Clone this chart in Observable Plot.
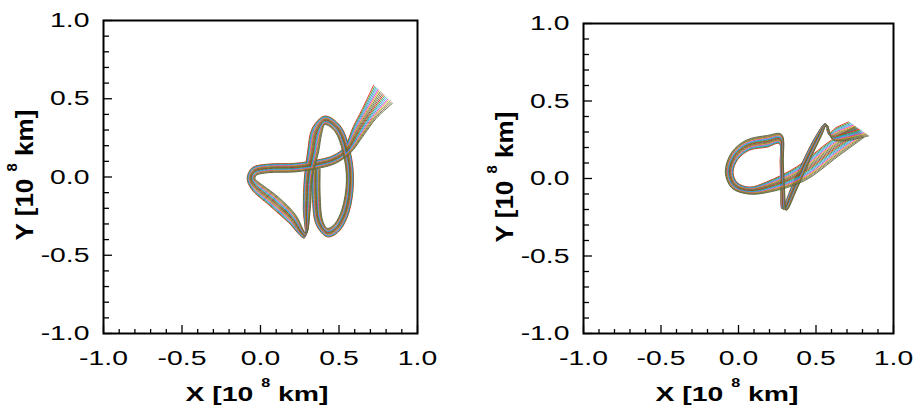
<!DOCTYPE html>
<html><head><meta charset="utf-8">
<script src="https://cdn.jsdelivr.net/npm/d3@7"></script>
<script src="https://cdn.jsdelivr.net/npm/@observablehq/plot@0.6"></script>
<style>
body{margin:0;background:#fff;}
#wrap{position:relative;width:915px;height:407px;overflow:hidden;background:#fff;}
#wrap svg{position:absolute;top:0;}
</style></head><body><div id="wrap"></div>
<script>
// ---- tick values and labels ----
const majorTicks = [-1, -0.5, 0, 0.5, 1];
const majorLabels = ["-1.0", "-0.5", "0.0", "0.5", "1.0"];
const minorTicks = [-0.9, -0.8, -0.7, -0.6, -0.4, -0.3, -0.2, -0.1, 0.1, 0.2, 0.3, 0.4, 0.6, 0.7, 0.8, 0.9];
const xTitleParts = ["X [10 ", "8", " km]"];
const yTitleParts = ["Y [10 ", "8", " km]"];

// ---- left panel: trajectory bundle centre line and bundle width (last - first trajectory) ----
const leftPathX   = [0.78, 0.69, 0.626, 0.552, 0.47, 0.38, 0.22, 0.05, -0.04, -0.06, -0.035, 0.085, 0.2, 0.285, 0.295, 0.305, 0.335, 0.36, 0.41, 0.49, 0.548, 0.57, 0.54, 0.48, 0.425, 0.375, 0.355, 0.355];
const leftPathY   = [0.528, 0.40, 0.297, 0.17, 0.112, 0.085, 0.06, 0.055, 0.035, -0.01, -0.055, -0.155, -0.265, -0.375, -0.2, 0.0, 0.16, 0.295, 0.362, 0.31, 0.16, -0.02, -0.22, -0.33, -0.355, -0.29, -0.12, 0.05];
const leftSpreadX = [0.12, 0.09, 0.07, 0.035, 0.015, 0.0, 0.0, 0.0, 0.025, 0.05, 0.045, 0.055, 0.045, 0.012, 0.045, 0.05, 0.07, 0.06, 0.0, -0.035, -0.045, -0.045, -0.045, -0.03, 0.0, 0.04, 0.05, 0.05];
const leftSpreadY = [-0.115, -0.055, -0.05, -0.04, -0.05, -0.055, -0.055, -0.055, -0.05, -0.005, 0.045, 0.055, 0.05, 0.03, 0.0, 0.0, 0.0, -0.035, -0.055, -0.035, -0.01, 0.0, 0.02, 0.045, 0.055, 0.03, 0.0, 0.0];

// ---- right panel ----
const rightPathX   = [0.78, 0.62, 0.40, 0.19, 0.07, -0.025, -0.06, -0.025, 0.06, 0.185, 0.27, 0.279, 0.285, 0.295, 0.36, 0.44, 0.52, 0.565, 0.595, 0.66, 0.775];
const rightPathY   = [0.30, 0.195, 0.03, -0.055, -0.078, -0.045, 0.04, 0.145, 0.215, 0.24, 0.255, 0.1, -0.08, -0.2, -0.06, 0.12, 0.28, 0.35, 0.27, 0.285, 0.32];
const rightSpreadX = [0.06, 0.05, 0.05, 0.02, -0.005, -0.035, -0.05, -0.04, -0.02, 0.0, 0.015, 0.02, 0.025, 0.03, 0.035, 0.035, 0.03, 0.01, 0.03, 0.07, 0.13];
const rightSpreadY = [-0.07, -0.1, -0.09, -0.065, -0.045, -0.035, 0.0, 0.045, 0.065, 0.075, 0.06, 0.0, 0.0, -0.01, -0.015, -0.015, -0.01, -0.01, -0.04, -0.08, -0.09];

const curveCount = 18;
const palette = ["#e81010", "#20b020", "#3a78e0", "#20c8c8", "#e020d0", "#e0a010", "#6b7a2a", "#8b6a4a", "#55663f"];

const FONT = "'Liberation Sans', Arial, Helvetica, sans-serif";
const STRETCH = 1.35;

function bundle(px, py, sx, sy) {
  const rows = [];
  for (let c = 0; c < curveCount; c++) {
    const t = c / (curveCount - 1) - 0.5;
    for (let i = 0; i < px.length; i++) rows.push({c, x: px[i] + t * sx[i], y: py[i] + t * sy[i]});
  }
  return rows;
}

function panel(cfg) {
  const rows = bundle(cfg.px, cfg.py, cfg.sx, cfg.sy);
  const svg = Plot.plot({
    width: cfg.width, height: 407,
    marginLeft: cfg.mL, marginRight: cfg.mR, marginTop: cfg.mT, marginBottom: cfg.mB,
    x: {domain: [-1, 1]},
    y: {domain: [-1, 1]},
    color: {type: "ordinal", domain: d3.range(curveCount), range: d3.range(curveCount).map(c => palette[c % palette.length])},
    style: {fontFamily: FONT, fontSize: "21px", color: "black", background: "white", overflow: "visible"},
    marks: [
      Plot.line(rows, {x: "x", y: "y", z: "c", stroke: "c", strokeWidth: 0.9, curve: "catmull-rom"}),
      Plot.axisX(minorTicks, {tickSize: 4, dy: -4, tickFormat: () => "", label: null, strokeWidth: 1.3}),
      Plot.axisX(majorTicks, {tickSize: 8, dy: -8, tickFormat: () => "", label: null, strokeWidth: 1.3}),
      Plot.axisY(minorTicks, {tickSize: 6, dx: 6, tickFormat: () => "", label: null, strokeWidth: 1.3}),
      Plot.axisY(majorTicks, {tickSize: 9, dx: 9, tickFormat: () => "", label: null, strokeWidth: 1.3}),
      Plot.axisX(majorTicks, {tickSize: 0, tickPadding: 17, tickFormat: d => majorLabels[majorTicks.indexOf(d)], label: null, fontSize: 21}),
      Plot.axisY(majorTicks, {tickSize: 0, tickPadding: 14, tickFormat: d => majorLabels[majorTicks.indexOf(d)], label: null, fontSize: 21}),
      Plot.frame({stroke: "black", strokeWidth: 2})
    ]
  });
  svg.style.left = cfg.left + "px";
  // horizontally widened glyphs as in the reference
  svg.querySelectorAll("text").forEach(t => {
    if (!t.textContent) return;
    const tr = t.getAttribute("transform");
    if (tr) t.setAttribute("transform", tr + ` scale(${STRETCH},1)`);
    else {
      const x = +(t.getAttribute("x") || 0), y = +(t.getAttribute("y") || 0);
      t.removeAttribute("x"); t.removeAttribute("y");
      t.setAttribute("transform", `translate(${x},${y}) scale(${STRETCH},1)`);
    }
  });
  addTitle(svg, xTitleParts, `translate(${cfg.xtx},401) scale(${STRETCH},1)`);
  addTitle(svg, yTitleParts, `translate(${cfg.ytx},${cfg.yty}) rotate(-90) scale(1.24,1.15)`);
  document.getElementById("wrap").appendChild(svg);
}

function addTitle(svg, parts, transform) {
  const t = d3.select(svg).append("text")
    .attr("transform", transform)
    .attr("text-anchor", "middle")
    .attr("font-family", FONT)
    .attr("font-size", 21)
    .attr("font-weight", "bold")
    .attr("fill", "black");
  t.append("tspan").text(parts[0]);
  t.append("tspan").attr("font-size", 12).attr("dy", -14).text(parts[1]);
  t.append("tspan").attr("dy", 14).text(parts[2]);
}

panel({px: leftPathX, py: leftPathY, sx: leftSpreadX, sy: leftSpreadY,
  left: 0, width: 457, mL: 103, mR: 40, mT: 20, mB: 74, xtx: 257, ytx: 33, yty: 175});
panel({px: rightPathX, py: rightPathY, sx: rightSpreadX, sy: rightSpreadY,
  left: 457, width: 458, mL: 126, mR: 22, mT: 23, mB: 74, xtx: 270, ytx: 56, yty: 177});
</script></body></html>
